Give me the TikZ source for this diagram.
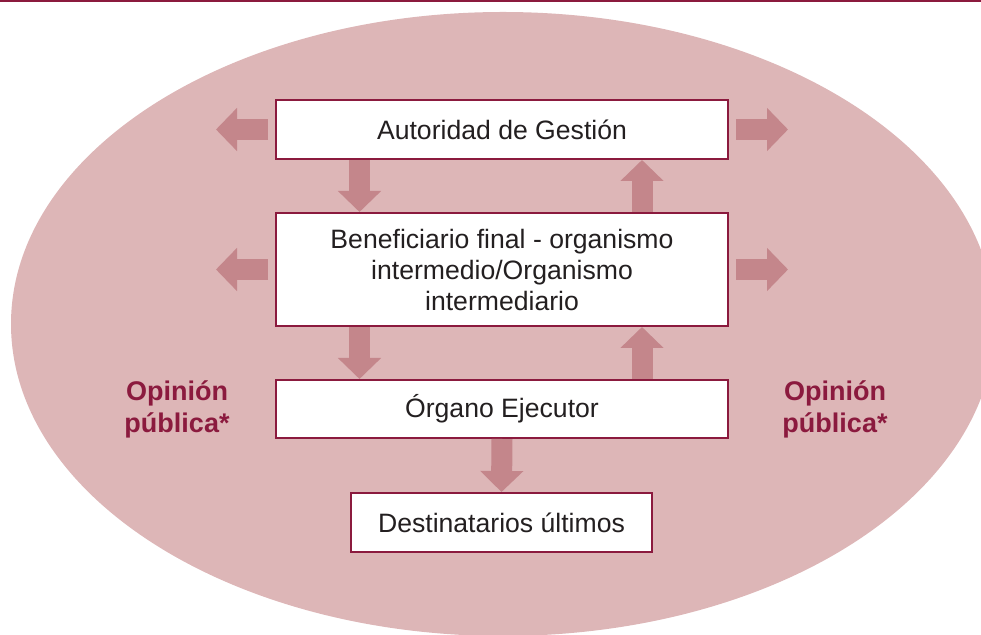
\documentclass[tikz,border=0pt]{standalone}
\usepackage{fontspec}
\setmainfont{Liberation Sans}
\usetikzlibrary{arrows.meta}
\definecolor{crimson}{HTML}{8B1A3E}
\definecolor{halo}{HTML}{DDB6B7}
\definecolor{flecha}{HTML}{C4868B}
\definecolor{texto}{HTML}{231F20}

\begin{document}
\begin{tikzpicture}[x=0.5pt, y=-0.5pt,
    caja/.style={draw=crimson, line width=1pt, fill=white, text=texto, align=center,
        font=\fontsize{13.3}{15.5}\selectfont, minimum width=226pt, minimum height=29.5pt, inner sep=0pt},
    bloque/.style={draw=flecha, line width=10.5pt, -{Triangle[width=21pt, length=10.5pt]}},
    opinion/.style={text=crimson, align=center, font=\fontsize{13.5}{16}\selectfont\bfseries}]
            \useasboundingbox (0,0) rectangle (981,635);
            \clip (0,0) rectangle (981,635);
            \fill[halo] (503,324) ellipse [x radius=492, y radius=312];
            \draw[crimson, line width=1.2pt] (0,1) -- (981,1);

            \node[caja] (ag) at (502,129.5) {Autoridad de Gestión};
            \node[caja, minimum height=56.5pt] (bf) at (502,269.5) {Beneficiario final - organismo\\intermedio/Organismo\\intermediario};
            \node[caja, minimum height=29pt] (oe) at (502,409) {Órgano Ejecutor};
            \node[caja, minimum width=150.5pt] (dest) at (501.5,522.5) {Destinatarios últimos};
            \node[opinion] (op1) at (177,409) {Opinión\\pública*};
            \node[opinion] (op2) at (835,409) {Opinión\\pública*};

            \coordinate (izq) at (359.5,0);
            \coordinate (der) at (642,0);
            \draw[bloque] (izq |- ag.south) -- (izq |- bf.north);
            \draw[bloque] (der |- bf.north) -- (der |- ag.south);
            \draw[bloque] (izq |- bf.south) -- (izq |- oe.north);
            \draw[bloque] (der |- oe.north) -- (der |- bf.south);
            \draw[bloque] (oe.south) -- (dest.north);
            %\draw[bloque] (dest.south) -- ++(0,-20pt);
            \foreach \n in {ag,bf}{
                \draw[bloque] ([xshift=-3.5pt]\n.west) -- ++(-26pt,0);
                \draw[bloque] ([xshift=3.5pt]\n.east) -- ++(26pt,0);
            }
\end{tikzpicture}
\end{document}
